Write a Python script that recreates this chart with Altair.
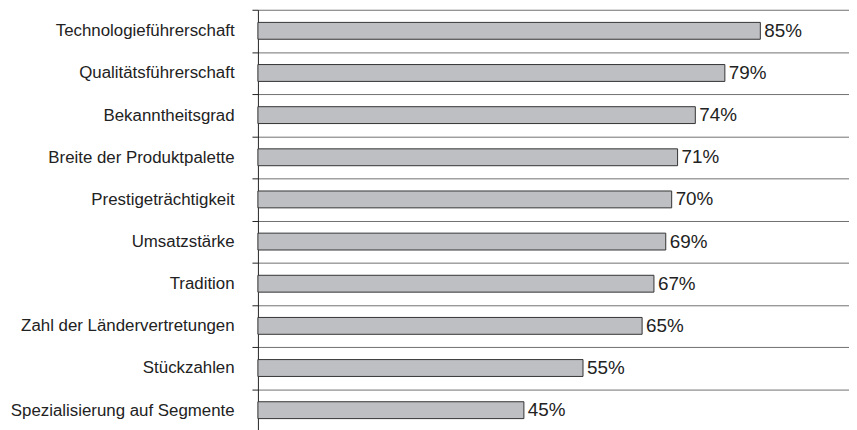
import altair as alt
import pandas as pd

categories = [
    "Technologieführerschaft",
    "Qualitätsführerschaft",
    "Bekanntheitsgrad",
    "Breite der Produktpalette",
    "Prestigeträchtigkeit",
    "Umsatzstärke",
    "Tradition",
    "Zahl der Ländervertretungen",
    "Stückzahlen",
    "Spezialisierung auf Segmente",
]
values = [85, 79, 74, 71, 70, 69, 67, 65, 55, 45]
labels = [f"{v}%" for v in values]

df = pd.DataFrame({"cat": categories, "val": values, "lab": labels})

FONT = "Liberation Sans"

y_enc = alt.Y(
    "cat:N",
    sort=categories,
    title=None,
    scale=alt.Scale(paddingInner=0, paddingOuter=0),
    axis=alt.Axis(
        tickBand="extent",
        grid=True,
        gridColor="#6f6f6f",
        gridWidth=1,
        domainColor="#222222",
        tickColor="#222222",
        tickSize=6,
        labelFont=FONT,
        labelFontSize=17,
        labelColor="#222222",
        labelPadding=18,
        labelAlign="right",
        labelLimit=300,
    ),
)

x_enc = alt.X(
    "val:Q",
    title=None,
    scale=alt.Scale(domain=[0, 99.3]),
    axis=None,
)

bars = alt.Chart(df).mark_bar(
    color="#bebfc3", stroke="#333333", strokeWidth=1, height={"band": 0.4}
).encode(y=y_enc, x=x_enc)

text = alt.Chart(df).mark_text(
    align="left", baseline="middle", dx=4, font=FONT, fontSize=19, color="#222222"
).encode(y=alt.Y("cat:N", sort=categories), x="val:Q", text="lab:N")

chart = (
    (bars + text)
    .properties(
        width=596,
        height=425,
        autosize=alt.AutoSizeParams(type="none"),
        padding={"left": 252, "top": 0, "right": 0, "bottom": 0},
    )
    .configure_view(stroke=None)
)

chart.save("out.html", embed_options={"renderer": "svg", "actions": False})
